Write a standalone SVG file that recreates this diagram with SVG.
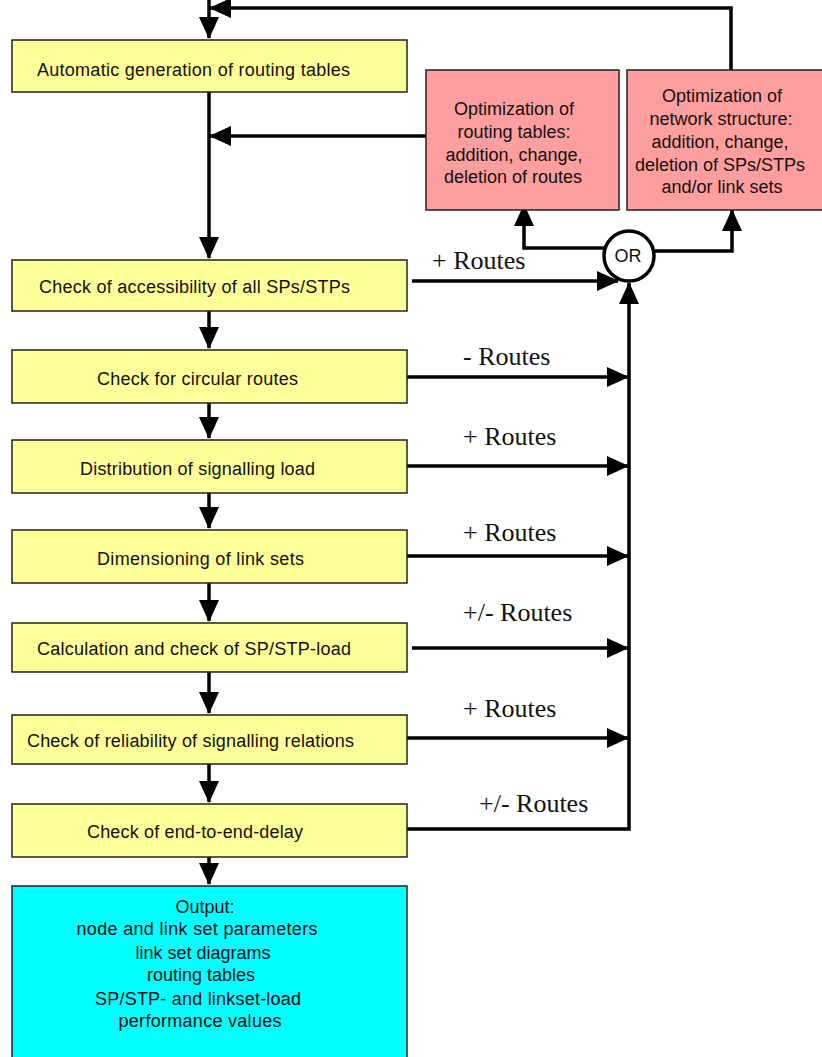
<svg xmlns="http://www.w3.org/2000/svg" width="822" height="1057" viewBox="0 0 822 1057">
<style>
.box{stroke:#222;stroke-width:1.5}
.y{fill:#FFFF99}
.p{fill:#FF9E9E}
.c{fill:#00FFFF}
.t{font-family:"Liberation Sans",Arial,sans-serif;font-size:18px;fill:#111}
.m{text-anchor:middle}
.lbl{font-family:"Liberation Serif","Times New Roman",serif;font-size:26px;fill:#111}
.ln{fill:none;stroke:#000;stroke-width:3.5;stroke-linejoin:miter}
</style>
<defs>
<marker id="ah" markerUnits="userSpaceOnUse" markerWidth="22" markerHeight="22" viewBox="0 0 22 22" refX="21" refY="11" orient="auto">
<path d="M0,1 L22,11 L0,21 Z" fill="#000"/>
</marker>
</defs>
<g id="connectors">
<path class="ln" d="M209,0 V38" marker-end="url(#ah)"/>
<path class="ln" d="M731,70 V8 H210" marker-end="url(#ah)"/>
<path class="ln" d="M209,92 V258" marker-end="url(#ah)"/>
<path class="ln" d="M427,136 H210" marker-end="url(#ah)"/>
<path class="ln" d="M209,311 V348" marker-end="url(#ah)"/>
<path class="ln" d="M209,403 V438" marker-end="url(#ah)"/>
<path class="ln" d="M209,493 V528" marker-end="url(#ah)"/>
<path class="ln" d="M209,583 V621" marker-end="url(#ah)"/>
<path class="ln" d="M209,672 V713" marker-end="url(#ah)"/>
<path class="ln" d="M209,764 V802" marker-end="url(#ah)"/>
<path class="ln" d="M209,857 V884" marker-end="url(#ah)"/>
<path class="ln" d="M605,248 H524 V205" marker-end="url(#ah)"/>
<path class="ln" d="M654,251 H732 V210" marker-end="url(#ah)"/>
<path class="ln" d="M412,281 H618" marker-end="url(#ah)"/>
<path class="ln" d="M407,829 H629 V283" marker-end="url(#ah)"/>
<path class="ln" d="M407,377 H628" marker-end="url(#ah)"/>
<path class="ln" d="M407,466 H628" marker-end="url(#ah)"/>
<path class="ln" d="M407,556 H628" marker-end="url(#ah)"/>
<path class="ln" d="M412,648 H628" marker-end="url(#ah)"/>
<path class="ln" d="M407,738 H628" marker-end="url(#ah)"/>
</g>
<g id="labels">
<text class="lbl" x="432" y="269">+ Routes</text>
<text class="lbl" x="463" y="365">- Routes</text>
<text class="lbl" x="463" y="445">+ Routes</text>
<text class="lbl" x="463" y="541">+ Routes</text>
<text class="lbl" x="463" y="621">+/- Routes</text>
<text class="lbl" x="463" y="717">+ Routes</text>
<text class="lbl" x="479" y="812">+/- Routes</text>
</g>
<g id="n1"><rect class="box y" x="12" y="40" width="395" height="52"/><text class="t" x="37" y="76" textLength="313" lengthAdjust="spacing">Automatic generation of routing tables</text></g>
<g id="n2"><rect class="box y" x="12" y="260" width="395" height="51"/><text class="t" x="39" y="293" textLength="311" lengthAdjust="spacing">Check of accessibility of all SPs/STPs</text></g>
<g id="n3"><rect class="box y" x="12" y="350" width="395" height="53"/><text class="t" x="97" y="385" textLength="201" lengthAdjust="spacing">Check for circular routes</text></g>
<g id="n4"><rect class="box y" x="12" y="440" width="395" height="53"/><text class="t" x="80" y="475" textLength="235" lengthAdjust="spacing">Distribution of signalling load</text></g>
<g id="n5"><rect class="box y" x="12" y="530" width="395" height="53"/><text class="t" x="97" y="565" textLength="207" lengthAdjust="spacing">Dimensioning of link sets</text></g>
<g id="n6"><rect class="box y" x="12" y="623" width="395" height="49"/><text class="t" x="37" y="655" textLength="314" lengthAdjust="spacing">Calculation and check of SP/STP-load</text></g>
<g id="n7"><rect class="box y" x="12" y="715" width="395" height="49"/><text class="t" x="27" y="747" textLength="327" lengthAdjust="spacing">Check of reliability of signalling relations</text></g>
<g id="n8"><rect class="box y" x="12" y="804" width="395" height="53"/><text class="t" x="87" y="838" textLength="216" lengthAdjust="spacing">Check of end-to-end-delay</text></g>
<g id="output"><rect class="box c" x="12" y="886" width="395" height="190"/>
<text class="t m" x="205" y="913">Output:</text>
<text class="t m" x="197" y="935" textLength="241" lengthAdjust="spacing">node and link set parameters</text>
<text class="t m" x="203" y="959">link set diagrams</text>
<text class="t m" x="201" y="981">routing tables</text>
<text class="t m" x="198" y="1005" textLength="206" lengthAdjust="spacing">SP/STP- and linkset-load</text>
<text class="t m" x="200" y="1027" textLength="163" lengthAdjust="spacing">performance values</text>
</g>
<g id="opt-routing"><rect class="box p" x="426" y="70" width="193" height="140"/>
<text class="t m" x="514" y="115">Optimization of</text>
<text class="t m" x="514" y="138">routing tables:</text>
<text class="t m" x="514" y="161">addition, change,</text>
<text class="t m" x="513" y="183">deletion of routes</text>
</g>
<g id="opt-network"><rect class="box p" x="627" y="70" width="197" height="140"/>
<text class="t m" x="722" y="102">Optimization of</text>
<text class="t m" x="721" y="125">network structure:</text>
<text class="t m" x="720" y="148">addition, change,</text>
<text class="t m" x="720" y="171">deletion of SPs/STPs</text>
<text class="t m" x="722" y="193">and/or link sets</text>
</g>
<g id="or"><circle cx="629" cy="256" r="25" fill="#fff" stroke="#000" stroke-width="3.5"/><text class="t m" x="628" y="262" font-size="15">OR</text></g>
</svg>
